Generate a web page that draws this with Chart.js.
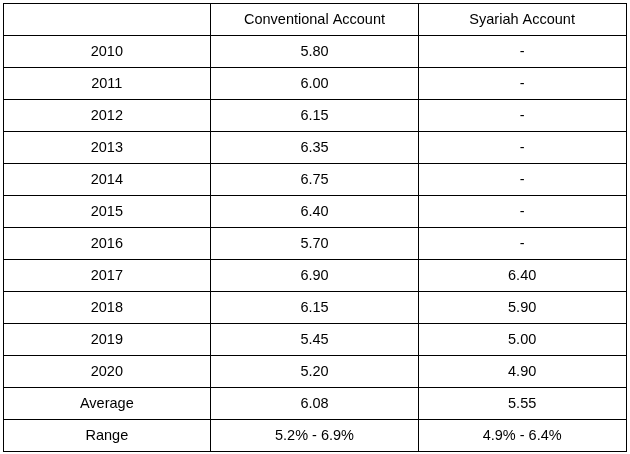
<!DOCTYPE html>
<html><head><meta charset="utf-8">
<script src="https://cdn.jsdelivr.net/npm/chart.js@4"></script>
<style>html,body{margin:0;padding:0;background:#fff}#wrap{width:630px;height:454px}</style>
</head><body><div id="wrap"><canvas id="c"></canvas></div>
<script>
const headers = ["", "Conventional Account", "Syariah Account"];
const rowLabels = ["2010","2011","2012","2013","2014","2015","2016","2017","2018","2019","2020","Average","Range"];
const conventional = ["5.80","6.00","6.15","6.35","6.75","6.40","5.70","6.90","6.15","5.45","5.20","6.08","5.2% - 6.9%"];
const syariah = ["-","-","-","-","-","-","-","6.40","5.90","5.00","4.90","5.55","4.9% - 6.4%"];

const rows = [headers].concat(rowLabels.map((r,i)=>[r, conventional[i], syariah[i]]));
const nRows = rows.length, nCols = headers.length;

const cellText = {
  id: 'cellText',
  afterDraw(chart) {
    const {ctx, scales:{x,y}} = chart;
    ctx.save();
    ctx.fillStyle = '#000';
    ctx.font = '14.5px "Liberation Sans", Arial, sans-serif';
    ctx.textAlign = 'center';
    ctx.textBaseline = 'middle';
    rows.forEach((row, ri) => {
      row.forEach((txt, ci) => {
        if (!txt) return;
        ctx.fillText(txt, x.getPixelForValue(ci + 0.5), y.getPixelForValue(ri + 0.5) + 1);
      });
    });
    ctx.restore();
  }
};

new Chart(document.getElementById('c'), {
  type: 'scatter',
  data: { datasets: [{ data: [], pointRadius: 0 }] },
  plugins: [cellText],
  options: {
    responsive: true, maintainAspectRatio: false, animation: false,
    layout: { padding: { left: 3, right: 4, top: 3, bottom: 3 } },
    plugins: { legend: { display: false }, tooltip: { enabled: false } },
    scales: {
      x: { type: 'linear', min: 0, max: nCols,
        ticks: { stepSize: 1, display: false },
        grid: { color: '#000', lineWidth: 1, drawTicks: false },
        border: { color: '#000' } },
      y: { type: 'linear', min: 0, max: nRows, reverse: true,
        ticks: { stepSize: 1, display: false },
        grid: { color: '#000', lineWidth: 1, drawTicks: false },
        border: { color: '#000' } }
    }
  }
});
</script></body></html>
